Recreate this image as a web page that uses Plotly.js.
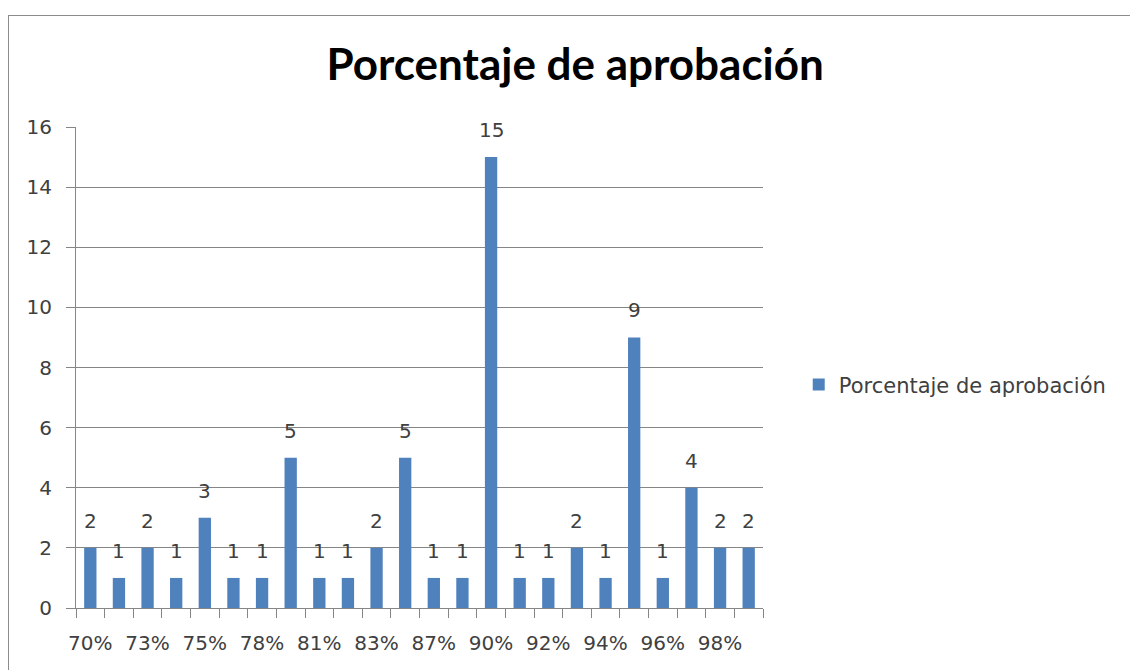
<!DOCTYPE html>
<html>
<head>
<meta charset="utf-8">
<script src="https://cdn.plot.ly/plotly-3.0.1.min.js"></script>
<style>
  html, body { margin: 0; padding: 0; background: #ffffff; }
  #wrap { position: relative; width: 1130px; height: 670px; overflow: hidden; }
  #frame { position: absolute; left: 8px; top: 15px; width: 1200px; height: 700px; border: 1px solid #8c8c8c; box-sizing: border-box; pointer-events: none; }
  #chart { position: absolute; left: 0; top: 0; width: 1130px; height: 670px; }
</style>
</head>
<body>
<div id="wrap">
  <div id="chart"></div>
  <div id="frame"></div>
</div>
<script>
// Categories (approval percentage); only every other one is labelled in the original
const categories = ["70%", "71%", "73%", "74%", "75%", "77%", "78%", "80%", "81%", "82%", "83%", "85%",
                    "87%", "88%", "90%", "91%", "92%", "93%", "94%", "95%", "96%", "97%", "98%", "99%"];
const counts = [2, 1, 2, 1, 3, 1, 1, 5, 1, 1, 2, 5, 1, 1, 15, 1, 1, 2, 1, 9, 1, 4, 2, 2];
const shownLabels = categories.map((c, i) => (i % 2 === 0 ? c : ""));
const seriesName = "Porcentaje de aprobación";
const chartTitle = "Porcentaje de aprobación";

const barColor = "#4F81BD";
const gridColor = "#868686";
const textColor = "#404040";
const baseFamily = "DejaVu Sans, Verdana, sans-serif";
const tickFont = { family: baseFamily, size: 20, color: textColor };

const trace = {
  type: "bar",
  x: categories,
  y: counts,
  name: seriesName,
  marker: { color: barColor, line: { width: 0 } },
  showlegend: true,
  hoverinfo: "x+y"
};

const annotations = categories.map((c, i) => ({
  x: c, y: counts[i], xref: "x", yref: "y",
  text: String(counts[i]), showarrow: false,
  yanchor: "middle", yshift: 27,
  font: { family: baseFamily, size: 20, color: textColor }
}));

const layout = {
  width: 1130, height: 670,
  margin: { l: 76, r: 367, t: 127, b: 62 },
  paper_bgcolor: "rgba(0,0,0,0)",
  plot_bgcolor: "#ffffff",
  title: {
    text: "<b>" + chartTitle + "</b>",
    font: { family: "Lato, Open Sans, sans-serif", size: 44, color: "#000000" },
    x: 0.509, xanchor: "center", xref: "container",
    y: 0.903, yanchor: "middle", yref: "container"
  },
  bargap: 0.57,
  xaxis: {
    type: "category",
    tickmode: "array",
    tickvals: categories,
    ticktext: shownLabels,
    tickangle: 0,
    tickson: "boundaries",
    ticks: "outside", ticklen: 9, tickcolor: gridColor, tickwidth: 1,
    showline: true, linecolor: gridColor, linewidth: 1,
    showgrid: false,
    tickfont: tickFont,
    ticklabelstandoff: 17,
    fixedrange: true
  },
  yaxis: {
    range: [0, 16], dtick: 2, tick0: 0,
    ticks: "outside", ticklen: 9, tickcolor: gridColor, tickwidth: 1,
    showline: true, linecolor: gridColor, linewidth: 1,
    showgrid: true, gridcolor: gridColor, gridwidth: 1,
    zeroline: false,
    tickfont: tickFont,
    ticklabelstandoff: 10,
    fixedrange: true
  },
  legend: {
    x: 1.052, xanchor: "left", xref: "paper",
    y: 0.464, yanchor: "middle",
    font: { family: baseFamily, size: 21, color: textColor },
    itemwidth: 30,
    bgcolor: "rgba(0,0,0,0)"
  },
  annotations: annotations
};

Plotly.newPlot("chart", [trace], layout, { displayModeBar: false, staticPlot: true });
</script>
</body>
</html>
